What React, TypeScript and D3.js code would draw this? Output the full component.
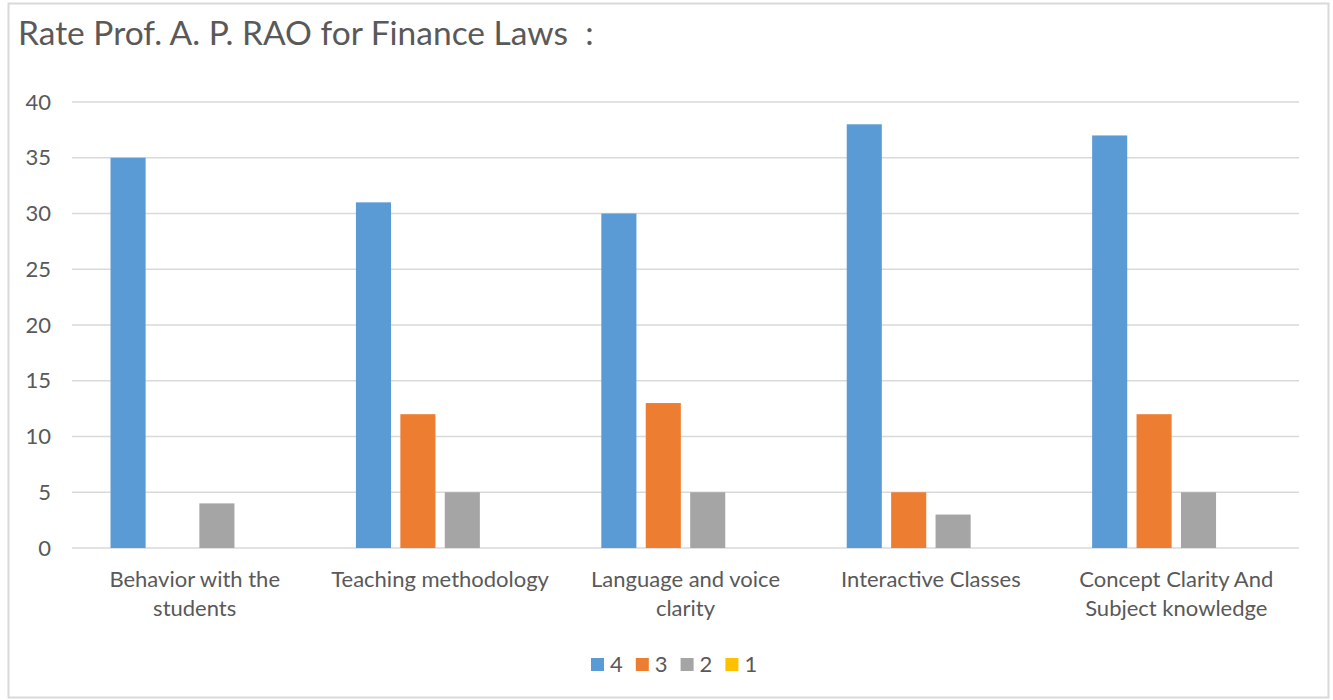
import React from "react";
import * as d3 from "d3";

const categories: string[][] = [
  ["Behavior with the", "students"],
  ["Teaching methodology"],
  ["Language and voice", "clarity"],
  ["Interactive Classes"],
  ["Concept Clarity And", "Subject knowledge"],
];
const seriesNames = ["4", "3", "2", "1"];
const series4 = [35, 31, 30, 38, 37];
const series3 = [0, 12, 13, 5, 12];
const series2 = [4, 5, 5, 3, 5];
const series1 = [0, 0, 0, 0, 0];
const seriesValues = [series4, series3, series2, series1];
const colors = ["#5B9BD5", "#ED7D31", "#A5A5A5", "#FFC000"];
const yTicks = [0, 5, 10, 15, 20, 25, 30, 35, 40];
const title = "Rate Prof. A. P. RAO for Finance Laws  :";

const W = 1333;
const H = 700;
const FONT = "Lato, 'Open Sans', sans-serif";
const TEXT = "#595959";

export default function App() {
  const left = 72;
  const right = 1299;
  const top = 102;
  const bottom = 548;
  const catIdx = categories.map((_, i) => String(i));
  const x0 = d3.scaleBand<string>().domain(catIdx).range([left, right]).padding(0);
  const bw = x0.bandwidth();
  const outer = bw * 0.157;
  const x1 = d3
    .scaleBand<string>()
    .domain(seriesNames)
    .range([outer, bw - outer])
    .paddingInner(0.21)
    .paddingOuter(0);
  const y = d3.scaleLinear().domain([0, 40]).range([bottom, top]);

  const legendX = 591;
  const legendStep = 44.8;

  return (
    <div style={{ position: "absolute", left: 0, top: 0 }}>
      <svg width={W} height={H} style={{ display: "block", background: "#fff" }}>
        <rect x={8.5} y={3.5} width={1320} height={694} fill="#fff" stroke="#D9D9D9" strokeWidth={2} />
        <text x={18} y={45} fontFamily={FONT} fontSize={33.5} fill={TEXT} style={{ whiteSpace: "pre" }}>
          {title}
        </text>
        {yTicks.map((t) => (
          <g key={t}>
            <line x1={left} x2={right} y1={y(t)} y2={y(t)} stroke="#D9D9D9" strokeWidth={1.5} />
            <text
              x={51}
              y={y(t)}
              dy="0.35em"
              textAnchor="end"
              fontFamily={FONT}
              fontSize={22}
              fill={TEXT}
            >
              {t}
            </text>
          </g>
        ))}
        {catIdx.map((c, ci) => (
          <g key={c} transform={`translate(${x0(c)},0)`}>
            {seriesNames.map((s, si) => {
              const v = seriesValues[si][ci];
              return (
                <rect
                  key={s}
                  x={x1(s)}
                  y={y(v)}
                  width={x1.bandwidth()}
                  height={y(0) - y(v)}
                  fill={colors[si]}
                />
              );
            })}
            {categories[ci].map((line, li) => (
              <text
                key={li}
                x={bw / 2}
                y={579.5 + li * 29}
                dy="0.35em"
                textAnchor="middle"
                fontFamily={FONT}
                fontSize={22}
                fill={TEXT}
              >
                {line}
              </text>
            ))}
          </g>
        ))}
        {seriesNames.map((s, i) => (
          <g key={s} transform={`translate(${legendX + i * legendStep},0)`}>
            <rect x={0} y={658} width={13} height={13} fill={colors[i]} />
            <text x={19} y={664.5} dy="0.35em" fontFamily={FONT} fontSize={22} fill={TEXT}>
              {s}
            </text>
          </g>
        ))}
      </svg>
    </div>
  );
}
